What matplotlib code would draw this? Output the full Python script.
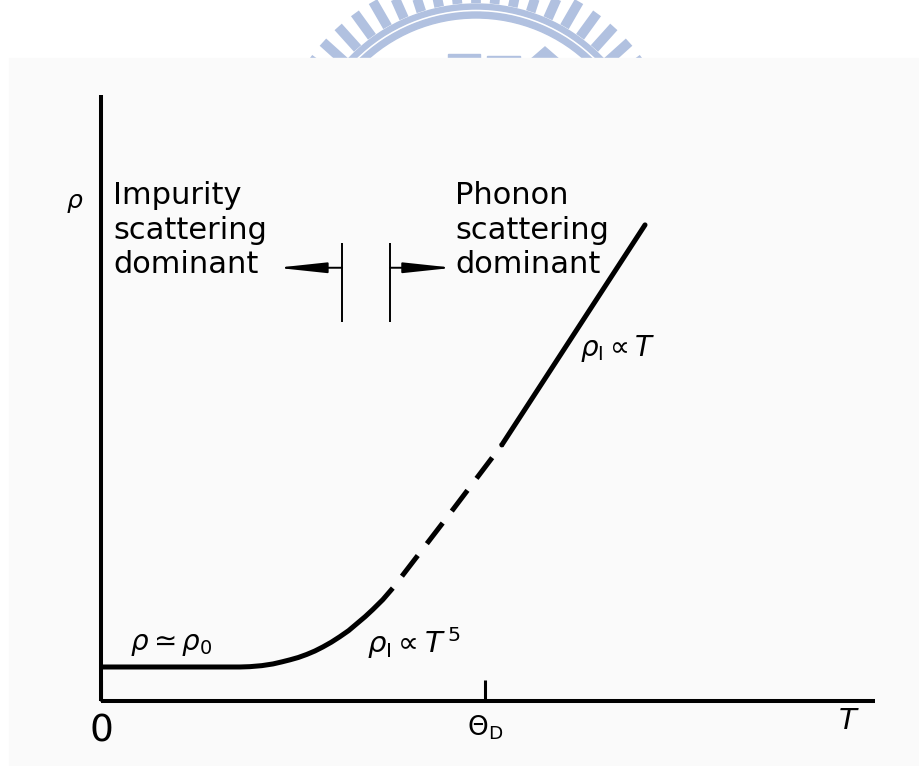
import numpy as np
import matplotlib
matplotlib.use('Agg')
import matplotlib.pyplot as plt
from matplotlib.patches import Rectangle, Wedge, Polygon

plt.rcParams['font.family'] = 'DejaVu Sans'
plt.rcParams['mathtext.fontset'] = 'dejavusans'

# temperature in units of the Debye temperature, resistivity in units of rho_0
T_low = [0.0, 0.362, 0.388, 0.419, 0.448, 0.471, 0.492, 0.514, 0.536, 0.557,
         0.578, 0.600, 0.622, 0.645, 0.667, 0.688, 0.708, 0.734, 0.760]
rho_low = [1.0, 1.0, 1.01, 1.04, 1.09, 1.15, 1.21, 1.28, 1.37, 1.47,
           1.59, 1.73, 1.89, 2.07, 2.28, 2.48, 2.69, 2.98, 3.32]
T_mid = [0.760, 0.904, 1.044]
rho_mid = [3.32, 5.44, 7.53]
T_high = [1.044, 1.417]
rho_high = [7.53, 14.0]

T_max = 2.016
rho_max = 17.82
theta_D = 1.0

# regime markers
bar_left, bar_right = 0.628, 0.753
bar_lo, bar_hi = 11.15, 13.47
arrow_y = 12.74
arrow_left_tip, arrow_right_tip = 0.458, 0.917

W, H = 919, 766
fig = plt.figure(figsize=(W / 100, H / 100), dpi=100)
fig.patch.set_facecolor('white')

# background layer in pixel units: logo stamp and scanned page
bg = fig.add_axes([0, 0, 1, 1])
bg.set_xlim(0, W)
bg.set_ylim(H, 0)
bg.axis('off')

logo = '#b1c1e0'
cx, cy = 476, 180
for a in np.arange(0, 360, 6.0):
    t = np.deg2rad(a)
    bg.plot([cx + 177 * np.cos(t), cx + 206 * np.cos(t)],
            [cy - 177 * np.sin(t), cy - 206 * np.sin(t)],
            color=logo, lw=7, solid_capstyle='butt', zorder=1)
bg.add_patch(Wedge((cx, cy), 176, 0, 360, width=5, color=logo, zorder=1))
bg.add_patch(Wedge((cx, cy), 168, 0, 360, width=6, color=logo, zorder=1))
bg.add_patch(Rectangle((448, 54), 32, 6, color=logo, zorder=1))
bg.add_patch(Rectangle((487, 55.7), 33, 6, color=logo, zorder=1))
bg.add_patch(Polygon([(530, 60), (545, 47), (560, 60)], color=logo, zorder=1))
bg.add_patch(Rectangle((9, 58), W - 9, H - 58, color='#fafafa', zorder=2))

ax = fig.add_axes([101 / W, (H - 701) / H, 774 / W, 606 / H])
ax.set_facecolor('none')
ax.set_xlim(0, T_max)
ax.set_ylim(0, rho_max)
for s in ['top', 'right']:
    ax.spines[s].set_visible(False)
for s in ['left', 'bottom']:
    ax.spines[s].set_linewidth(2.9)
    ax.spines[s].set_capstyle('butt')

ax.set_yticks([])
ax.set_xticks([0, theta_D])
ax.set_xticklabels(['0', r'$\Theta_{\rm D}$'])
ax.tick_params(axis='x', direction='in', length=15, width=2.2, pad=9)
labels = ax.get_xticklabels()
labels[0].set_fontsize(27)
labels[1].set_fontsize(19)

ax.set_xlabel(r'$T$', fontsize=21)
ax.xaxis.set_label_coords((849 - 101) / 774, -0.01)
ax.set_ylabel(r'$\rho$', fontsize=18, rotation=0, va='center', ha='center')
ax.yaxis.set_label_coords(-26 / 774, (701 - 203) / 606)

lw = 3.6
ax.plot(T_low, rho_low, color='black', lw=lw, solid_capstyle='butt',
        solid_joinstyle='round')
ax.plot(T_mid, rho_mid, color='black', lw=lw,
        linestyle=(5.2, (5.2, 3.0)), dash_capstyle='butt')
ax.plot(T_high, rho_high, color='black', lw=lw, solid_capstyle='round')

# boundaries between the two scattering regimes
ax.vlines([bar_left, bar_right], bar_lo, bar_hi, color='black', lw=1.4)
head = '-|>,head_length=1.5,head_width=0.16'
ax.annotate('', xy=(arrow_left_tip, arrow_y), xytext=(bar_left, arrow_y),
            arrowprops=dict(arrowstyle=head, color='black', lw=1.4,
                            mutation_scale=20, shrinkA=0, shrinkB=0))
ax.annotate('', xy=(arrow_right_tip, arrow_y), xytext=(bar_right, arrow_y),
            arrowprops=dict(arrowstyle=head, color='black', lw=1.4,
                            mutation_scale=20, shrinkA=0, shrinkB=0))

ax.text(0.031, 13.85, 'Impurity\nscattering\ndominant', fontsize=22,
        va='center', ha='left', linespacing=1.25)
ax.text(0.922, 13.85, 'Phonon\nscattering\ndominant', fontsize=22,
        va='center', ha='left', linespacing=1.25)

ax.text(0.076, 1.5, r'$\rho \simeq \rho_0$', fontsize=20, va='baseline')
ax.text(0.693, 1.41, r'$\rho_{\rm I} \propto T^{\,5}$', fontsize=21, va='baseline')
ax.text(1.247, 10.15, r'$\rho_{\rm I} \propto T$', fontsize=20, va='baseline')

fig.savefig('out.png', dpi=100)
